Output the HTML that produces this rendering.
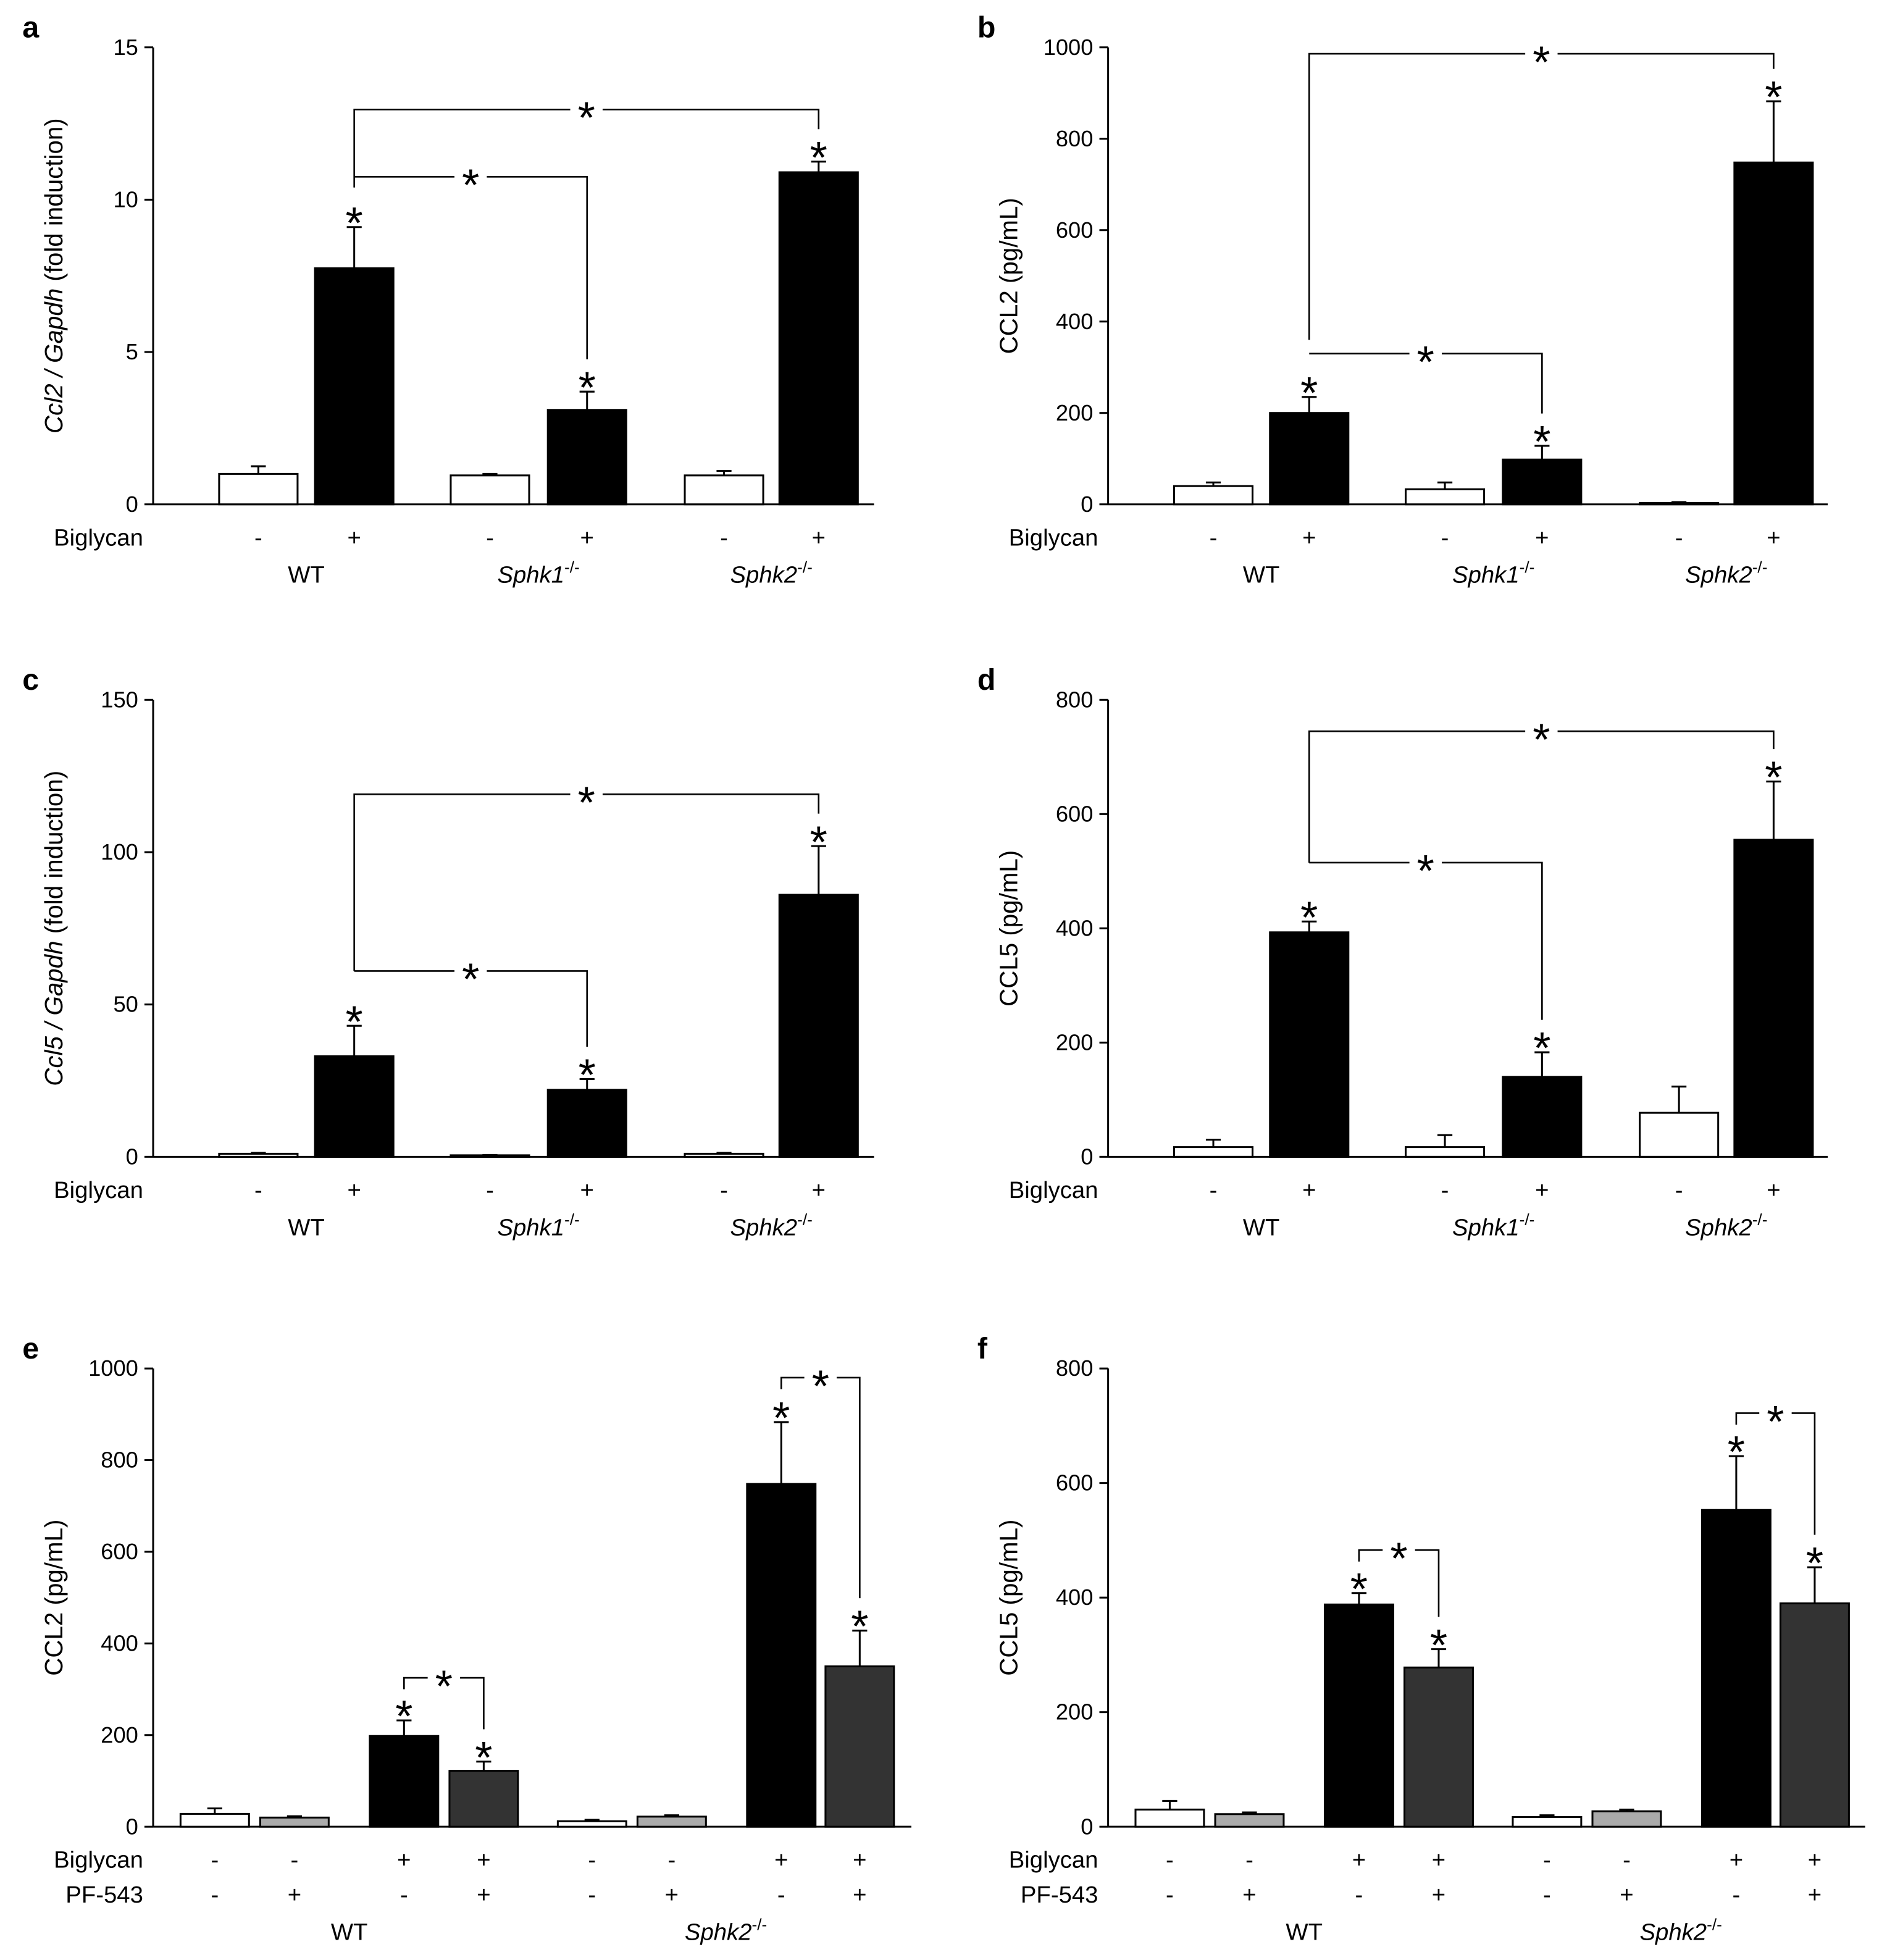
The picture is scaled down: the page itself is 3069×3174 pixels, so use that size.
<!DOCTYPE html>
<html><head><meta charset="utf-8"><style>
html,body{margin:0;padding:0;background:#fff}
svg{display:block}
text{font-family:"Liberation Sans",Arial,sans-serif;fill:#000}
</style></head><body>
<svg id="fig" xmlns="http://www.w3.org/2000/svg" width="3069" height="3174" viewBox="0 0 1522 1574"></svg>
<script>
// ---- data ----
const aVals=[1.0,7.75,0.95,3.1,0.95,10.9];
const aErrs=[1.25,9.1,1.0,3.7,1.1,11.25];
const aTicks=[0,5,10,15];
const bVals=[40,200,33,98,3,748];
const bErrs=[48,235,48,128,5,882];
const bTicks=[0,200,400,600,800,1000];
const cVals=[1,33,0.5,22,1,86];
const cErrs=[1.3,43,0.6,25.5,1.3,102];
const cTicks=[0,50,100,150];
const dVals=[17,393,17,140,77,555];
const dErrs=[30,412,38,183,123,657];
const dTicks=[0,200,400,600,800];
const eVals=[28,20,198,122,12,22,748,350];
const eErrs=[40,23,232,142,15,25,883,428];
const eTicks=[0,200,400,600,800,1000];
const fVals=[30,22,388,278,17,27,553,390];
const fErrs=[45,25,408,310,20,30,647,453];
const fTicks=[0,200,400,600,800];
const groups3=["WT","Sphk1","Sphk2"];
const groups2=["WT","Sphk2"];
const biglycan6=["-","+","-","+","-","+"];
const biglycan8=["-","-","+","+","-","-","+","+"];
const pf8=["-","+","-","+","-","+","-","+"];

const NS="http://www.w3.org/2000/svg";
const svg=document.getElementById('fig');
function el(tag,attrs,parent,txt){const e=document.createElementNS(NS,tag);for(const k in attrs)e.setAttribute(k,attrs[k]);if(txt!==undefined)e.textContent=txt;(parent||svg).appendChild(e);return e;}

function panel(o){
  const g=el('g',{});
  
  
  const y=v=>o.yBot-(v/o.max)*(o.yBot-o.yTop);
  const cx=i=>o.x0+o.off[i]+o.w/2;
  const L=el('text',{x:o.x0-105,y:o.yTop-8,'font-size':24,'font-weight':'bold'},g,o.letter);
  
  const ya=el('line',{x1:o.x0,x2:o.x0,y1:o.yTop,y2:o.yBot,stroke:'#000','stroke-width':1.5},g);
  
  const xa=el('line',{x1:o.x0,x2:o.xEnd,y1:o.yBot,y2:o.yBot,stroke:'#000','stroke-width':1.5},g);
  
  o.ticks.forEach(t=>{
    el('line',{x1:o.x0-7,x2:o.x0,y1:y(t),y2:y(t),stroke:'#000','stroke-width':1.5},g);
    const tl=el('text',{x:o.x0-12,y:y(t)+6,'font-size':18,'text-anchor':'end'},g,t);
    
  });
  const my=(o.yTop+o.yBot)/2, tx=o.x0-73;
  const yt=el('text',{x:tx,y:my,'font-size':20,'text-anchor':'middle',transform:`rotate(-90 ${tx} ${my})`},g);
  
  if(o.gene){
    el('tspan',{'font-style':'italic'},yt,o.gene+' / Gapdh');
    el('tspan',{},yt,' (fold induction)');
  } else yt.textContent=o.title;
  o.vals.forEach((v,i)=>{
    const x=o.x0+o.off[i];
    const top=y(o.errs[i]);
    const e=el('line',{x1:cx(i),x2:cx(i),y1:top,y2:y(v),stroke:'#000','stroke-width':1.5},g);
    
    el('line',{x1:cx(i)-6,x2:cx(i)+6,y1:top,y2:top,stroke:'#000','stroke-width':1.5},g);
    const r=el('rect',{x:x,y:y(v),width:o.w,height:o.yBot-y(v),fill:o.fills[i],stroke:'#000','stroke-width':1.5},g);
    
    if(o.stars.includes(i)){
      const s=el('text',{x:cx(i),y:top+9,'font-size':36,'text-anchor':'middle'},g,'*');
      
    }
  });
  o.brackets.forEach(b=>{
    const [i,j,bv,leftDown]=b;
    const by=y(bv);
    const x1=cx(i),x2=cx(j);
    const lEnd=leftDown!==undefined?y(leftDown):by;
    const rEnd=y(o.errs[j])-26;
    const p=el('path',{d:`M${x1},${lEnd} L${x1},${by} L${x2},${by} L${x2},${rEnd}`,fill:'none',stroke:'#000','stroke-width':1.3},g);
    
    const m=(x1+x2)/2;
    el('rect',{x:m-13,y:by-3,width:26,height:6,fill:'#fff'},g);
    const s=el('text',{x:m,y:by+19,'font-size':36,'text-anchor':'middle'},g,'*');
    
  });
  let ly=o.yBot+33;
  o.rows.forEach(row=>{
    const rl=el('text',{x:o.x0-8,y:ly,'font-size':19,'text-anchor':'end'},g,row.name);
    
    row.signs.forEach((s,i)=>{
      const t=el('text',{x:cx(i),y:ly,'font-size':19,'text-anchor':'middle'},g,s);
      
    });
    ly+=28;
  });
  ly+=2;
  o.groups.forEach((gname,k)=>{
    const idx=o.groupIdx[k];
    const gx=(cx(idx[0])+cx(idx[1]))/2;
    const t=el('text',{x:gx,y:ly,'font-size':19,'text-anchor':'middle'},g);
    
    if(gname==='WT')t.textContent='WT';
    else{el('tspan',{'font-style':'italic'},t,gname);el('tspan',{'font-size':13,dy:-8},t,'-/-');}
  });
}

const off6=[53,130,239,317,427,503], off8=[22,86,174,238,325,389,477,540];
const fill6=['#fff','#000','#fff','#000','#fff','#000'];
const fill8=['#fff','#aaa','#000','#333','#fff','#aaa','#000','#333'];
const g3idx=[[0,1],[2,3],[4,5]];
const g2idx=[[0,3],[4,7]];

panel({letter:'a',x0:123,xEnd:702,yTop:38,yBot:405,max:15,ticks:aTicks,vals:aVals,errs:aErrs,off:off6,w:63,fills:fill6,gene:'Ccl2',stars:[1,3,5],
  brackets:[[1,5,12.96,10.4],[1,3,10.75]],rows:[{name:'Biglycan',signs:biglycan6}],groups:groups3,groupIdx:g3idx});
panel({letter:'b',x0:890,xEnd:1468,yTop:38,yBot:405,max:1000,ticks:bTicks,vals:bVals,errs:bErrs,off:off6,w:63,fills:fill6,title:'CCL2 (pg/mL)',stars:[1,3,5],
  brackets:[[1,5,986,360],[1,3,330]],rows:[{name:'Biglycan',signs:biglycan6}],groups:groups3,groupIdx:g3idx});
panel({letter:'c',x0:123,xEnd:702,yTop:562,yBot:929,max:150,ticks:cTicks,vals:cVals,errs:cErrs,off:off6,w:63,fills:fill6,gene:'Ccl5',stars:[1,3,5],
  brackets:[[1,5,119,61],[1,3,61]],rows:[{name:'Biglycan',signs:biglycan6}],groups:groups3,groupIdx:g3idx});
panel({letter:'d',x0:890,xEnd:1468,yTop:562,yBot:929,max:800,ticks:dTicks,vals:dVals,errs:dErrs,off:off6,w:63,fills:fill6,title:'CCL5 (pg/mL)',stars:[1,3,5],
  brackets:[[1,5,745,515],[1,3,515]],rows:[{name:'Biglycan',signs:biglycan6}],groups:groups3,groupIdx:g3idx});
panel({letter:'e',x0:123,xEnd:732,yTop:1099,yBot:1467,max:1000,ticks:eTicks,vals:eVals,errs:eErrs,off:off8,w:55,fills:fill8,title:'CCL2 (pg/mL)',stars:[2,3,6,7],
  brackets:[[2,3,325,300],[6,7,980,955]],rows:[{name:'Biglycan',signs:biglycan8},{name:'PF-543',signs:pf8}],groups:groups2,groupIdx:g2idx});
panel({letter:'f',x0:890,xEnd:1498,yTop:1099,yBot:1467,max:800,ticks:fTicks,vals:fVals,errs:fErrs,off:off8,w:55,fills:fill8,title:'CCL5 (pg/mL)',stars:[2,3,6,7],
  brackets:[[2,3,483,463],[6,7,722,702]],rows:[{name:'Biglycan',signs:biglycan8},{name:'PF-543',signs:pf8}],groups:groups2,groupIdx:g2idx});
</script>
</body></html>
